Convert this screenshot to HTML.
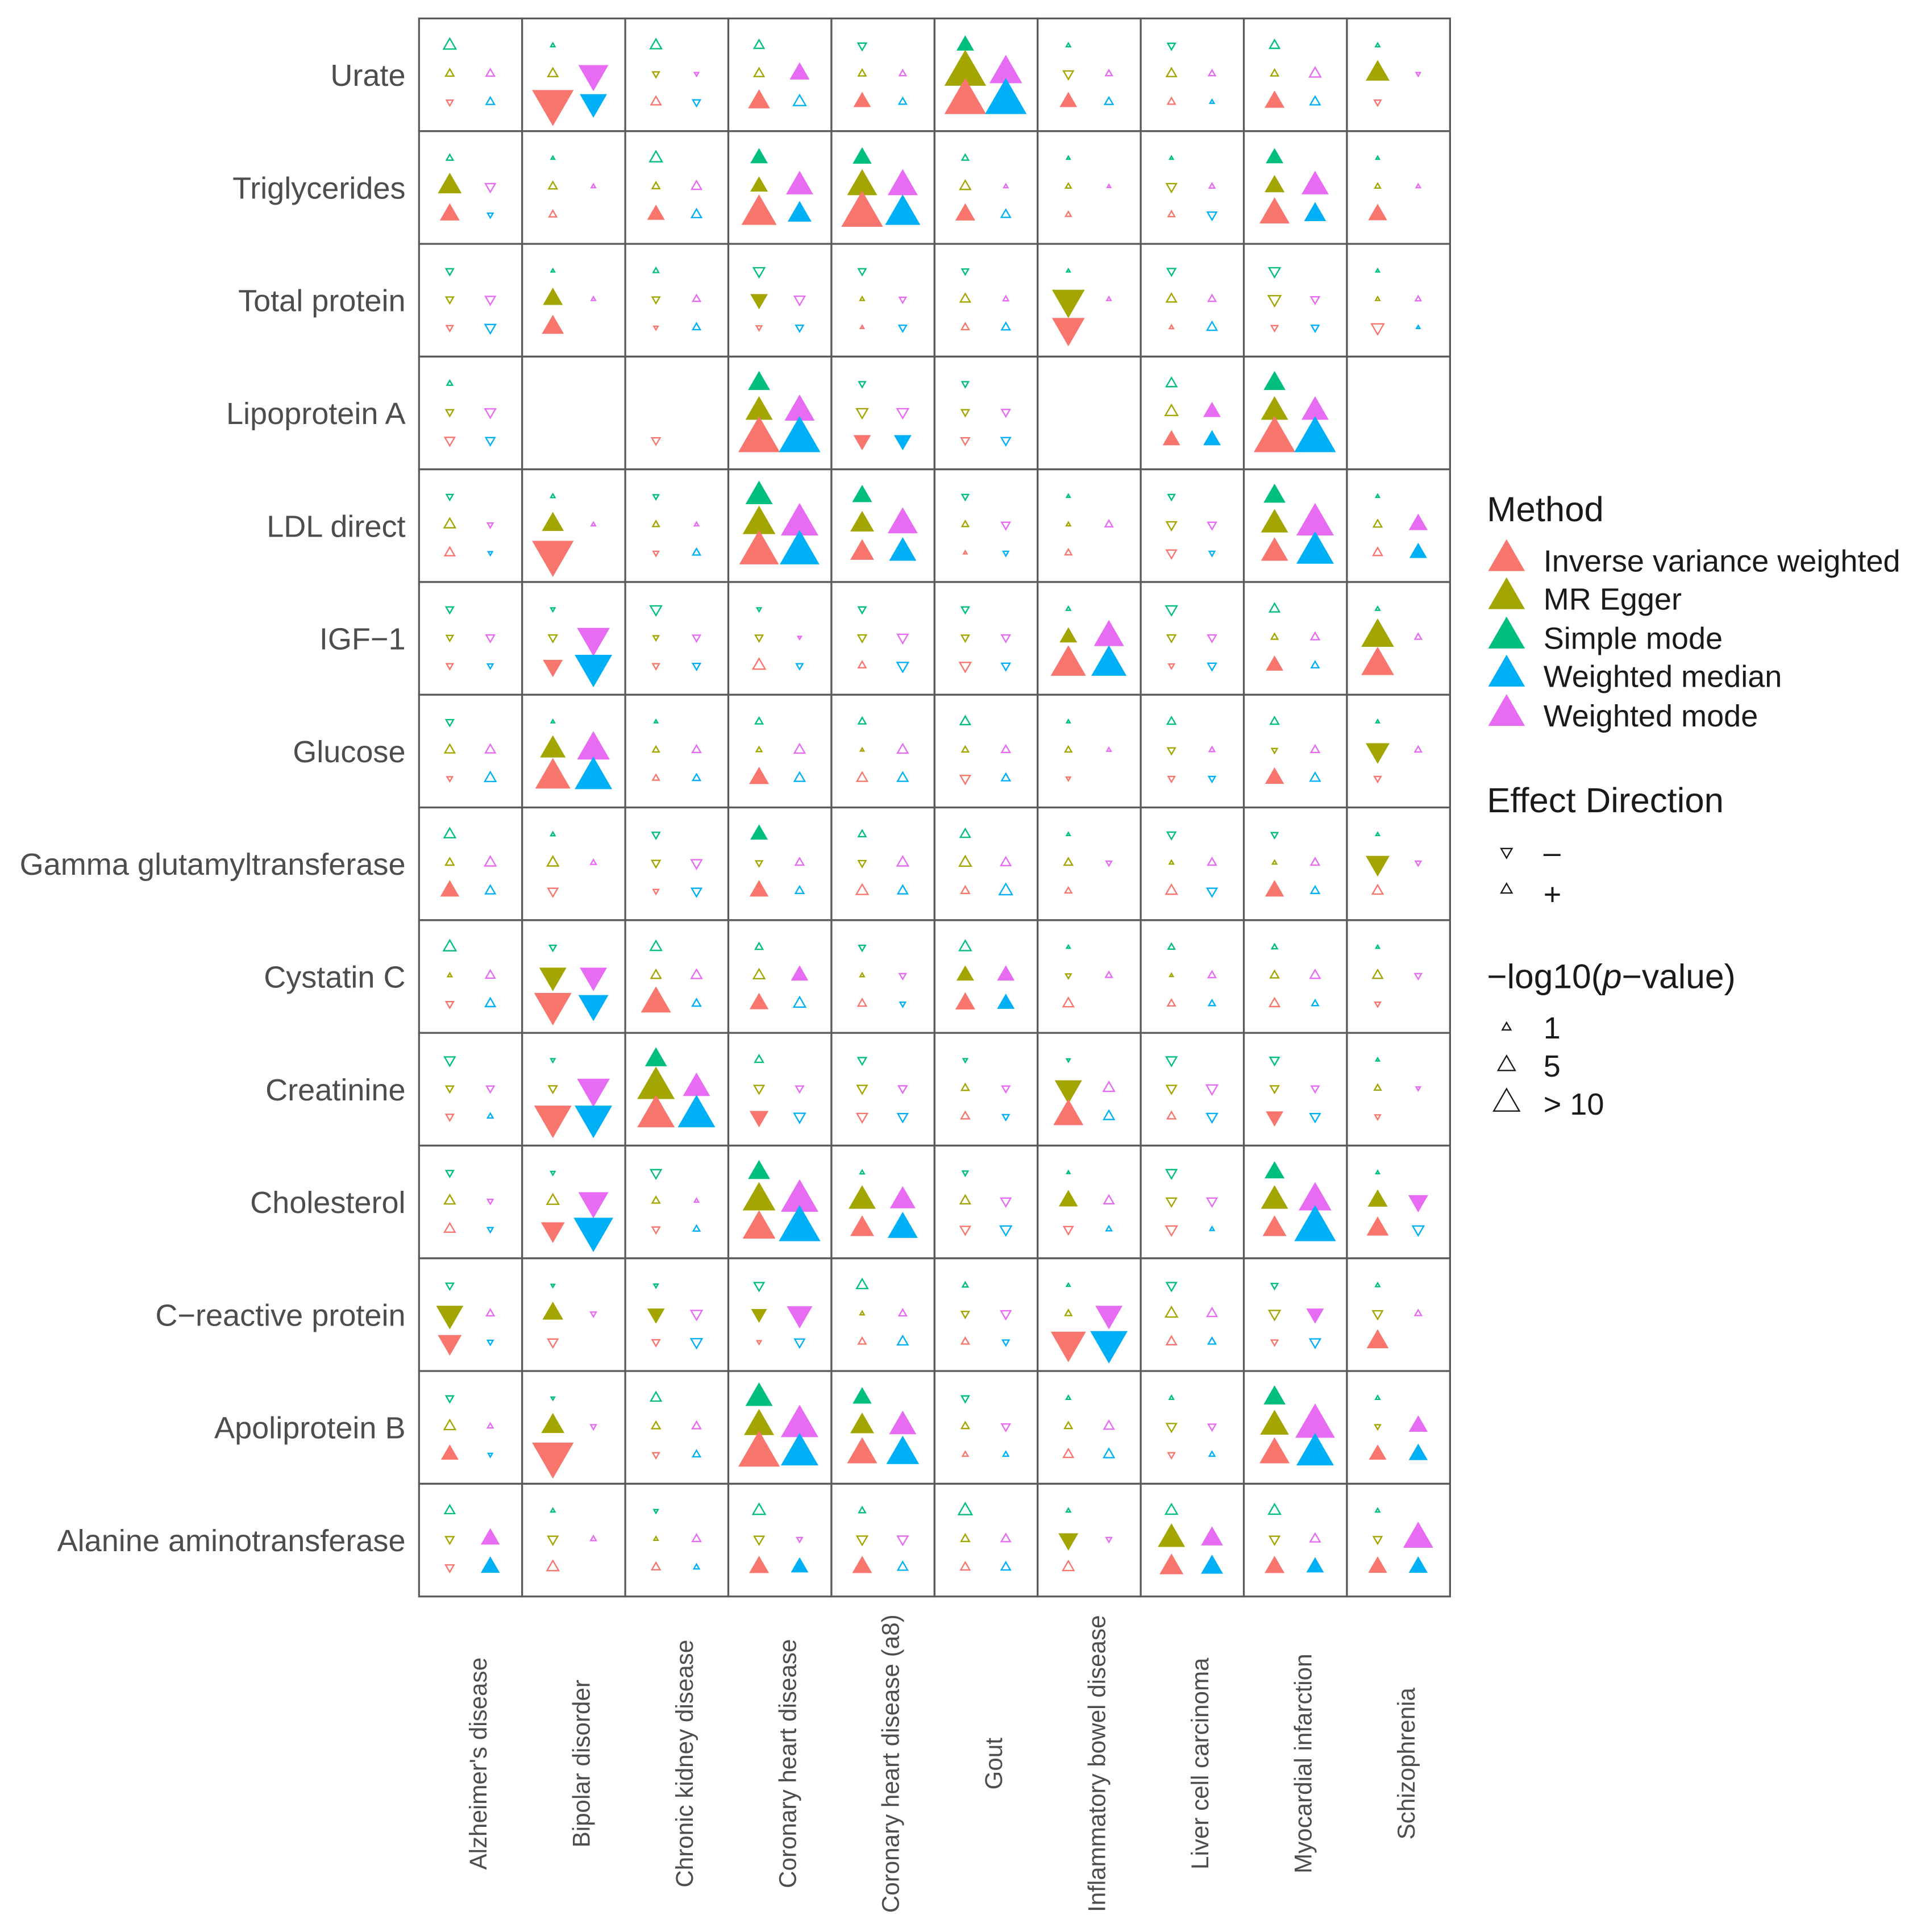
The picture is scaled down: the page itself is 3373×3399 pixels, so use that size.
<!DOCTYPE html>
<html><head><meta charset="utf-8"><style>
html,body{margin:0;padding:0;background:#fff;}
svg{display:block;font-family:"Liberation Sans",Arial,sans-serif;}
</style></head><body>
<svg id="chart" width="3373" height="3399" viewBox="0 0 1560 1572" xmlns="http://www.w3.org/2000/svg">
<rect width="1560" height="1572" fill="#fff"/>
<g id="grid"></g><g id="marks"></g><g id="ylabels"></g><g id="xlabels"></g>
<g id="legend"></g>
</svg>
<script>
const exposures = ["Urate","Triglycerides","Total protein","Lipoprotein A","LDL direct","IGF\u22121","Glucose","Gamma glutamyltransferase","Cystatin C","Creatinine","Cholesterol","C\u2212reactive protein","Apoliprotein B","Alanine aminotransferase"];
const outcomes = ["Alzheimer's disease","Bipolar disorder","Chronic kidney disease","Coronary heart disease","Coronary heart disease (a8)","Gout","Inflammatory bowel disease","Liver cell carcinoma","Myocardial infarction","Schizophrenia"];
const methods = ["Simple mode","MR Egger","Inverse variance weighted","Weighted mode","Weighted median"];
const methodColors = ["#00BF7D","#A3A500","#F8766D","#E76BF3","#00B0F6"];
// signed -log10(p); "f" = filled (significant); "" = missing
const simpleMode = [
["+1.2","+0.2","+1","+0.8","-0.6","+1.5f","+0.2","-0.5","+0.8","+0.2"],
["+0.4","+0.15","+1.2","+1.5f","+1.8f","+0.4","+0.15","+0.15","+1.5f","+0.15"],
["-0.5","+0.15","+0.3","-1","-0.5","-0.4","+0.15","-0.6","-1","+0.15"],
["+0.3","","","+2.5f","-0.4","-0.4","","+0.9","+2.5f",""],
["-0.4","+0.2","-0.3","+4f","+2f","-0.4","+0.15","-0.4","+2.5f","+0.15"],
["-0.5","-0.2","-1","-0.2","-0.5","-0.5","+0.2","-1","+0.8","+0.2"],
["-0.5","+0.15","+0.15","+0.5","+0.5","+0.8","+0.15","+0.6","+0.6","+0.15"],
["+1","+0.2","-0.5","+1.5f","+0.5","+0.8","+0.15","-0.6","-0.4","+0.15"],
["+1.2","-0.4","+1","+0.5","-0.4","+1.1","+0.15","+0.4","+0.3","+0.15"],
["-0.9","-0.2","+2.5f","+0.6","-0.6","-0.2","-0.15","-0.9","-0.7","+0.15"],
["-0.5","-0.2","-0.9","+2.5f","+0.2","-0.3","+0.1","-0.9","+2f","+0.15"],
["-0.5","-0.15","-0.2","-0.8","+1","+0.3","+0.15","-0.8","-0.4","+0.2"],
["-0.5","-0.15","+0.9","+4f","+1.8f","-0.5","+0.2","+0.2","+2.5f","+0.2"],
["+0.8","+0.2","-0.2","+1.2","+0.4","+1.4","+0.2","+1.1","+1.1","+0.2"]];
const mrEgger = [
["+0.6","+0.8","-0.4","+0.8","+0.5","+10f","-0.8","+0.8","+0.5","+3f"],
["+3f","+0.6","+0.5","+1.5f","+5f","+0.9","+0.3","-0.8","+2f","+0.3"],
["-0.5","+2f","-0.5","-1.5f","+0.2","+0.8","-6f","+0.8","-1.2","+0.2"],
["-0.5","","","+4f","-1","-0.5","","+1.2","+4f",""],
["+1","+2.5f","+0.4","+6f","+3f","+0.4","+0.2","-0.8","+4f","+0.6"],
["-0.4","-0.6","-0.3","-0.5","-0.6","-0.5","+1.5f","-0.6","+0.4","+6f"],
["+0.8","+3.5f","+0.4","+0.3","+0.15","+0.4","+0.4","-0.5","-0.3","-3f"],
["+0.6","+1","-0.6","-0.4","-0.5","+1.1","+0.6","+0.2","+0.2","-3f"],
["+0.2","-4f","+0.8","+1","+0.2","+1.5f","-0.3","+0.15","+0.6","+0.8"],
["-0.5","-0.6","+8f","-0.8","-0.8","+0.5","-4f","-0.8","-0.6","+0.4"],
["+0.9","+1.1","+0.5","+6f","+4f","+0.8","+1.8f","-0.8","+4f","+2f"],
["-4f","+2.2f","-1.5f","-1.2f","+0.2","-0.5","+0.4","+1.1","-1","-0.8"],
["+1","+2.8f","+0.6","+5f","+3f","+0.5","+0.5","-0.8","+4.5f","-0.3"],
["-0.6","-0.8","+0.2","-0.8","-0.9","+0.6","-2f","+4f","-0.8","-0.6"]];
const ivw = [
["-0.4","-10f","+0.8","+2.5f","+1.5f","+10f","+1.5f","+0.5","+2f","-0.4"],
["+2f","+0.5","+1.5f","+7f","+10f","+2f","+0.3","+0.4","+5f","+1.8f"],
["-0.4","+2.5f","-0.2","-0.3","+0.15","+0.5","-6f","+0.2","-0.4","-1.2"],
["-0.8","","-0.6","+10f","-1.5f","-0.6","","+1.5f","+10f",""],
["+0.8","-10f","-0.3","+9f","+3f","+0.15","+0.4","-0.8","+4f","+0.7"],
["-0.4","-2f","-0.4","+1.2","+0.5","-1","+7f","-0.3","+1.5f","+6f"],
["-0.3","+7f","+0.4","+2f","+0.9","-0.8","-0.2","-0.4","+1.8f","-0.4"],
["+1.8f","-0.8","-0.3","+1.8f","+1.1","+0.6","+0.4","+1","+1.8f","+0.9"],
["-0.5","-8f","+5f","+1.8f","+0.6","+2f","+0.9","+0.5","+0.8","-0.3"],
["-0.5","-8f","+8f","-1.8f","-0.9","+0.6","+5f","+0.6","-1.5f","-0.3"],
["+0.9","-3f","-0.5","+6f","+3f","-0.8","-0.7","-1","+3f","+2.5f"],
["-3f","-0.8","-0.5","-0.2","+0.5","+0.5","-7f","+0.8","-0.4","+2.5f"],
["+1.5f","-10f","-0.4","+10f","+5f","+0.3","+0.8","-0.4","+5f","+1.5f"],
["-0.6","+1.1","+0.6","+2f","+2f","+0.7","+1","+3f","+2f","+1.8f"]];
const weightedMode = [
["+0.6","-5f","-0.2","+2f","+0.4","+6f","+0.4","+0.4","+1","-0.2"],
["-0.8","+0.2","+0.8","+4f","+5f","+0.2","+0.15","+0.3","+4f","+0.2"],
["-0.8","+0.2","+0.5","-0.9","-0.4","+0.3","+0.2","+0.5","-0.6","+0.3"],
["-0.9","","","+5f","-1","-0.6","","+1.5f","+4f",""],
["-0.3","+0.2","+0.2","+8f","+5f","-0.6","+0.5","-0.6","+8f","+1.8f"],
["-0.6","-6f","-0.5","-0.15","-0.9","-0.6","+5f","-0.6","+0.6","+0.4"],
["+0.8","+6f","+0.6","+0.9","+0.9","+0.6","+0.2","+0.3","+0.6","+0.4"],
["+1","+0.3","-0.9","+0.6","+1","+0.8","-0.3","+0.6","+0.6","-0.3"],
["+0.7","-4f","+0.9","+1.5f","-0.4","+1.5f","+0.4","+0.5","+0.8","-0.4"],
["-0.5","-6f","+4f","-0.5","-0.6","-0.5","+1","-1","-0.5","-0.2"],
["-0.3","-5f","+0.2","+8f","+3.5f","-0.8","+0.8","-0.8","+6f","-2f"],
["+0.5","-0.3","-1","-3.5f","+0.5","-0.8","-4f","+0.8","-1.5f","+0.4"],
["+0.3","-0.3","+0.6","+8f","+4f","-0.6","+0.8","-0.5","+9f","+1.8f"],
["+1.8f","+0.3","+0.6","-0.3","-0.9","+0.7","-0.3","+2.5f","+0.8","+5f"]];
const weightedMedian = [
["+0.6","-4f","-0.5","+1.2","+0.5","+10f","+0.6","+0.2","+0.8",""],
["-0.3","","+0.8","+3f","+7f","+0.7","","-0.7","+2.5f",""],
["-0.9","","+0.5","-0.5","-0.5","+0.6","","+0.8","-0.5","+0.15"],
["-0.7","","","+10f","-1.5f","-0.7","","+1.5f","+10f",""],
["-0.2","","+0.5","+9f","+4f","-0.3","","-0.3","+8f","+1.5f"],
["-0.3","-8f","-0.5","-0.4","-1","-0.6","+7f","-0.6","+0.5",""],
["+1","+8f","+0.5","+0.9","+0.9","+0.6","","-0.4","+0.8",""],
["+0.8","","-0.8","+0.6","+0.8","+1.3","","-0.8","+0.6",""],
["+0.8","-5f","+0.6","+1.1","-0.3","+1.5f","","+0.4","+0.4",""],
["+0.3","-8f","+8f","-1","-0.8","-0.4","+0.9","-0.9","-0.8",""],
["-0.3","-9f","+0.4","+10f","+5f","-1","+0.3","+0.2","+10f","-1"],
["-0.3","","-1","-0.8","+0.9","-0.4","-8f","+0.5","-0.9",""],
["-0.2","","+0.5","+8f","+6f","+0.3","+0.9","+0.3","+8f","+1.8f"],
["+1.8f","","+0.3","+1.5f","+0.8","+0.7","","+2.5f","+1.5f","+1.8f"]];
const methodData = [simpleMode, mrEgger, ivw, weightedMode, weightedMedian];

const NS = "http://www.w3.org/2000/svg";
const X0 = 341, X1 = 1180, Y0 = 15, Y1 = 1299;
const colW = (X1 - X0) / outcomes.length, rowH = (Y1 - Y0) / exposures.length;
const offX = [25, 25, 25, 58, 58], offY = [22, 45, 68, 45, 68];
function xScale(c) { return X0 + c * colW; }
function yScale(r) { return Y0 + r * rowH; }
function sizeScale(v) { return Math.max(3.2, 32 * Math.sqrt(Math.min(v, 10) / 10)); }
function el(tag, attrs, parent) { const e = document.createElementNS(NS, tag); for (const k in attrs) e.setAttribute(k, attrs[k]); parent.appendChild(e); return e; }
function triPoints(cx, cy, w, up) {
  const h = w * 0.866;
  if (up) return [cx, cy - h * 2 / 3, cx - w / 2, cy + h / 3, cx + w / 2, cy + h / 3].map(n => n.toFixed(2)).join(" ");
  return [cx, cy + h * 2 / 3, cx - w / 2, cy - h / 3, cx + w / 2, cy - h / 3].map(n => n.toFixed(2)).join(" ");
}
function drawTri(parent, cx, cy, w, up, color, filled) {
  const sw = 1.1;
  const ww = filled ? w : Math.max(w - sw, 2.5);
  return el("polygon", { points: triPoints(cx, cy, ww, up), fill: filled ? color : "none", stroke: color, "stroke-width": sw, "stroke-linejoin": "miter" }, parent);
}
const grid = document.getElementById("grid");
for (let r = 0; r < exposures.length; r++) for (let c = 0; c < outcomes.length; c++) {
  const cell = el("rect", { x: xScale(c), y: yScale(r), width: colW, height: rowH, fill: "#fff", stroke: "#5a5a5a", "stroke-width": 1.5 }, grid);
  
  
}
const marks = document.getElementById("marks");
for (let m = 0; m < methods.length; m++) {
  const data = methodData[m];
  for (let r = 0; r < exposures.length; r++) for (let c = 0; c < outcomes.length; c++) {
    const tok = data[r][c];
    if (!tok) continue;
    const filled = tok.endsWith("f");
    const v = parseFloat(tok);
    const p = drawTri(marks, xScale(c) + offX[m], yScale(r) + offY[m], sizeScale(Math.abs(v)), v >= 0, methodColors[m], filled);
    
    
  }
}
const yl = document.getElementById("ylabels");
exposures.forEach((name, r) => {
  const t = el("text", { x: 330, y: yScale(r) + rowH / 2 + 9, "text-anchor": "end", "font-size": 25, fill: "#4d4d4d" }, yl);
  t.textContent = name;
  
  
});
const xl = document.getElementById("xlabels");
outcomes.forEach((name, c) => {
  const cx = xScale(c) + colW / 2 + 13, cy = 1435;
  const t = el("text", { x: 0, y: 0, transform: `translate(${cx},${cy}) rotate(-90)`, "text-anchor": "middle", "font-size": 19.5, fill: "#4d4d4d" }, xl);
  t.textContent = name;
  
  
});
const lg = document.getElementById("legend");
function txt(x, y, s, size, parent) { const t = el("text", { x: x, y: y, "font-size": size, fill: "#1a1a1a" }, parent); t.textContent = s; return t; }
let tt = txt(1210, 424, "Method", 28.5, lg);


const legOrder = [2, 1, 0, 4, 3];
const legY = [456, 487, 519, 550, 582];
legOrder.forEach((m, i) => {
  const p = drawTri(lg, 1226, legY[i], 28, true, methodColors[m], true);
  
  
  const t = txt(1256, legY[i] + 9, methods[m], 25, lg);
  
  
});
tt = txt(1210, 661, "Effect Direction", 28.5, lg);


let d1 = drawTri(lg, 1226, 693, 10, false, "#1a1a1a", false);


tt = txt(1256, 702, "\u2013", 25, lg);


let d2 = drawTri(lg, 1226, 724, 10, true, "#1a1a1a", false);


tt = txt(1256, 736, "+", 25, lg);


const pt = el("text", { x: 1210, y: 804, "font-size": 28, fill: "#1a1a1a" }, lg);
pt.innerHTML = '\u2212log10(<tspan font-style="italic">p</tspan>\u2212value)';


const sizeLabels = ["1", "5", "> 10"];
const sizeY = [836, 867, 898];
sizeLabels.forEach((lab, i) => {
  const p = drawTri(lg, 1226, sizeY[i], 8 + i * 7, true, "#1a1a1a", false);
  
  
  const t = txt(1256, sizeY[i] + 9, lab, 25, lg);
  
  
});
</script>
</body></html>
